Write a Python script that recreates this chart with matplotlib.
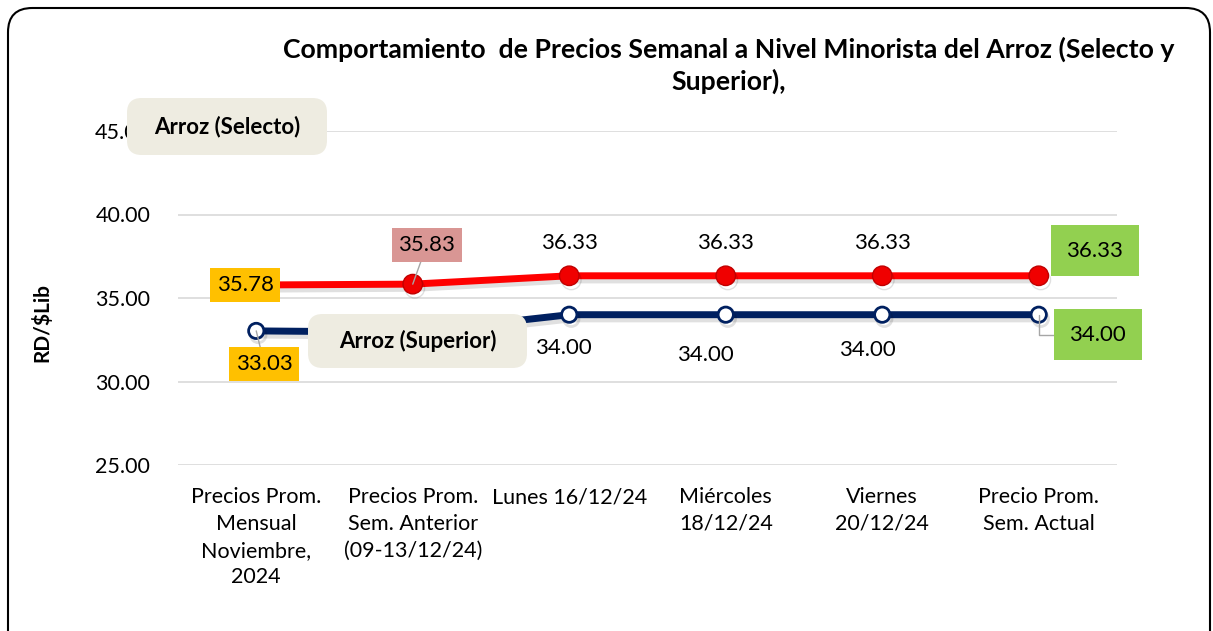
import matplotlib
matplotlib.use("Agg")
import matplotlib.pyplot as plt
import matplotlib.patheffects as pe
from matplotlib.patches import FancyBboxPatch

plt.rcParams['font.family'] = ['Lato', 'DejaVu Sans']

# Data
categories = ['Precios Prom.\nMensual\nNoviembre,\n2024',
              'Precios Prom.\nSem. Anterior\n(09-13/12/24)',
              'Lunes 16/12/24',
              'Miércoles\n18/12/24',
              'Viernes\n20/12/24',
              'Precio Prom.\nSem. Actual']
selecto = [35.78, 35.83, 36.33, 36.33, 36.33, 36.33]
superior = [33.03, 32.95, 34.00, 34.00, 34.00, 34.00]
y_ticks = [25, 30, 35, 40, 45]

W, H = 1213, 631
fig = plt.figure(figsize=(W / 100, H / 100), dpi=100)
ax = fig.add_axes([178 / W, 1 - 465 / H, (1117 - 178) / W, (465 - 131) / H])

x = list(range(len(categories)))

shadow = [pe.SimpleLineShadow(offset=(1.5, -3), shadow_color='k', alpha=0.12), pe.Normal()]

ax.plot(x, selecto, color='#FF0000', lw=5, marker='o', ms=14,
        mfc='#F00000', mec='#C00000', mew=1, zorder=4, path_effects=shadow)
ax.plot(x, superior, color='#002060', lw=5, marker='o', ms=11,
        mfc='white', mec='#002060', mew=2, zorder=3, path_effects=shadow)

ax.set_xlim(-0.5, len(categories) - 0.5)
ax.set_ylim(25, 45)
ax.set_yticks(y_ticks)
ax.set_yticklabels([f'{v:.2f}' for v in y_ticks], fontsize=15.5)
ax.set_xticks(x)
ax.set_xticklabels(categories, fontsize=15.5, linespacing=1.42)
ax.tick_params(axis='x', length=0, pad=16)
ax.tick_params(axis='y', length=0, pad=20)
ax.grid(axis='y', color='#D9D9D9', lw=1.2)
ax.set_axisbelow(True)
for s in ax.spines.values():
    s.set_visible(False)

lbl = dict(fontsize=16, ha='center', va='center', textcoords='offset pixels', zorder=6)
arrow = dict(arrowstyle='-', color='#A6A6A6', lw=1, shrinkA=0, shrinkB=0)

# Selecto labels
ax.annotate(f'{selecto[0]:.2f}', (0, selecto[0]), xytext=(-11, 0),
            bbox=dict(boxstyle='square,pad=0.3', fc='#FFC000', ec='none'), **lbl)
ax.annotate(f'{selecto[1]:.2f}', (1, selecto[1]), xytext=(14, 39),
            bbox=dict(boxstyle='square,pad=0.3', fc='#D99694', ec='none'),
            arrowprops=arrow, **lbl)
for i in (2, 3, 4):
    ax.annotate(f'{selecto[i]:.2f}', (i, selecto[i]), xytext=(0, 33), **lbl)
ax.annotate(f'{selecto[5]:.2f}', (5, selecto[5]), xytext=(56, 25),
            bbox=dict(boxstyle='square,pad=0.7', fc='#92D050', ec='none'), **lbl)

# Superior labels
ax.annotate(f'{superior[0]:.2f}', (0, superior[0]), xytext=(8, -33),
            bbox=dict(boxstyle='square,pad=0.3', fc='#FFC000', ec='none'),
            arrowprops=arrow, **lbl)
for i, off in zip((2, 3, 4), ((-6, -33), (-20, -40), (-15, -35))):
    ax.annotate(f'{superior[i]:.2f}', (i, superior[i]), xytext=off, **lbl)
ax.annotate(f'{superior[5]:.2f}', (5, superior[5]), xytext=(59, -20),
            bbox=dict(boxstyle='square,pad=0.7', fc='#92D050', ec='none'),
            arrowprops=dict(arrowstyle='-', color='#A6A6A6', lw=1,
                            connectionstyle='angle,angleA=0,angleB=90,rad=0',
                            shrinkA=0, shrinkB=0), **lbl)


def name_box(x0, y0, x1, y1, text):
    box = FancyBboxPatch((x0 / W, 1 - y1 / H), (x1 - x0) / W, (y1 - y0) / H,
                         boxstyle='round,pad=0,rounding_size=0.012',
                         transform=fig.transFigure, fc='#EEECE1', ec='none',
                         zorder=5, mutation_aspect=W / H)
    fig.patches.append(box)
    fig.text((x0 + x1) / 2 / W, 1 - (y0 + y1) / 2 / H, text, fontsize=16,
             fontweight='bold', ha='center', va='center', zorder=6)


name_box(127, 98, 327, 155, 'Arroz (Selecto)')
name_box(308, 314, 527, 368, 'Arroz (Superior)')

fig.text(729 / W, 1 - 65 / H,
         'Comportamiento  de Precios Semanal a Nivel Minorista del Arroz (Selecto y\nSuperior),',
         fontsize=19.2, fontweight='bold', ha='center', va='center', linespacing=1.3)
fig.text(42 / W, 1 - 323 / H, 'RD/$Lib', fontsize=15, fontweight='bold',
         rotation=90, ha='center', va='center')

frame = FancyBboxPatch((8 / W, -30 / H), (1202 / W), (653 / H),
                       boxstyle='round,pad=0,rounding_size=0.02',
                       transform=fig.transFigure, fc='none', ec='black', lw=1.5,
                       mutation_aspect=W / H, zorder=7)
fig.patches.append(frame)

fig.savefig('out.png', dpi=100)
